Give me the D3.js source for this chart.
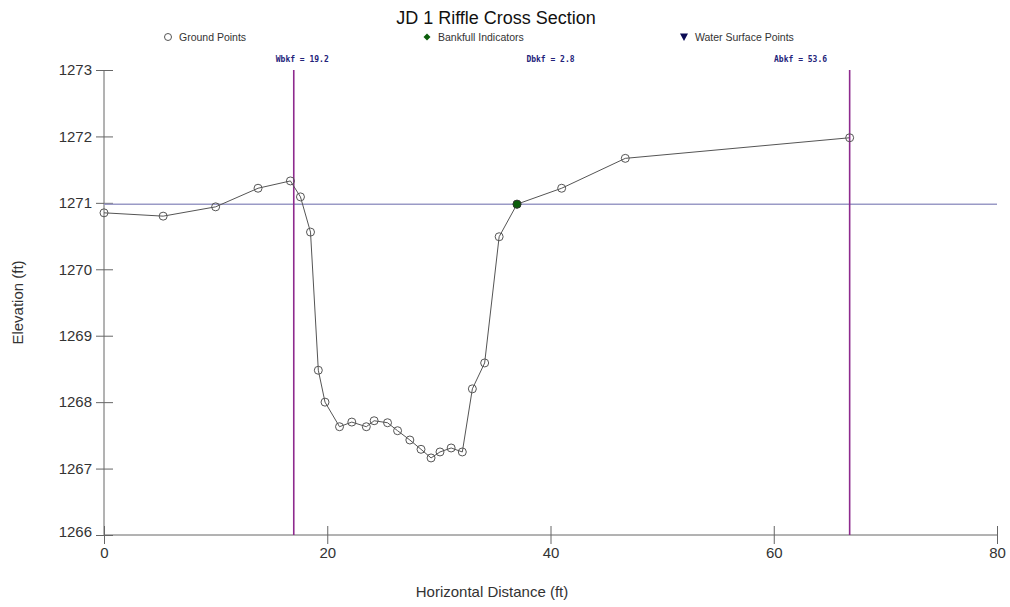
<!DOCTYPE html>
<html>
<head>
<meta charset="utf-8">
<script src="https://cdn.jsdelivr.net/npm/d3@7"></script>
<style>
  body { margin: 0; background: #fff; }
  svg { font-family: "Liberation Sans", Arial, sans-serif; }
</style>
</head>
<body>
<svg id="chart" width="1010" height="607"></svg>
<script>
// Ground survey points
const stations = [0, 5.3, 10.0, 13.8, 16.7, 17.6, 18.5, 19.2, 19.8, 21.1, 22.2, 23.5, 24.2, 25.4, 26.3, 27.4,
  28.4, 29.3, 30.1, 31.1, 32.1, 33.0, 34.1, 35.4, 37.0, 41.0, 46.7, 66.8];
const elevations = [1270.85, 1270.80, 1270.94, 1271.22, 1271.33, 1271.09, 1270.56, 1268.48, 1268.0, 1267.63,
  1267.70, 1267.63, 1267.72, 1267.69, 1267.57, 1267.43, 1267.29, 1267.16, 1267.25, 1267.31, 1267.25,
  1268.20, 1268.59, 1270.49, 1270.98, 1271.22, 1271.67, 1271.98];

// Bankfull indicator and stage
const bankfullX = [37.0];
const bankfullY = [1270.98];
const bankfullStage = 1270.98;
// Bankfull width limits
const widthLimits = [17.0, 66.8];

const xTicks = [0, 20, 40, 60, 80];
const yTicks = [1266, 1267, 1268, 1269, 1270, 1271, 1272, 1273];

const legendItems = ['Ground Points', 'Bankfull Indicators', 'Water Surface Points'];
const annotations = ['Wbkf = 19.2', 'Dbkf = 2.8', 'Abkf = 53.6'];

const svg = d3.select('#chart');
const margin = { left: 104, right: 13, top: 70, bottom: 72 };
const W = 1010, H = 607;

const x = d3.scaleLinear().domain([0, 80]).range([margin.left, W - margin.right]);
const y = d3.scaleLinear().domain([1266, 1273]).range([H - margin.bottom, margin.top]);

// Title
svg.append('text')
  .attr('x', 496).attr('y', 24)
  .attr('text-anchor', 'middle')
  .style('font-size', '18px')
  .style('fill', '#111')
  .text('JD 1 Riffle Cross Section');

// Legend
const legendX = [168, 427, 684];
const lg = svg.append('g').attr('transform', 'translate(0,37)');
lg.append('circle').attr('cx', legendX[0]).attr('cy', 0).attr('r', 3.5)
  .style('fill', 'none').style('stroke', '#555').style('stroke-width', 1);
lg.append('path').attr('d', 'M0,-3.5 L3.5,0 L0,3.5 L-3.5,0 Z')
  .attr('transform', `translate(${legendX[1]},0)`).style('fill', '#0b5e0b');
lg.append('path').attr('d', 'M-4,-3.5 L4,-3.5 L0,4 Z')
  .attr('transform', `translate(${legendX[2]},0)`).style('fill', '#0c0c55');
legendItems.forEach((t, i) => {
  lg.append('text')
    .attr('x', legendX[i] + 11).attr('y', 4)
    .style('font-size', '10.5px')
    .style('fill', '#333')
    .text(t);
});

// Annotations
const annX = [0.222, 0.5, 0.78];
annotations.forEach((t, i) => {
  svg.append('text')
    .attr('x', margin.left + annX[i] * (W - margin.left - margin.right))
    .attr('y', 62)
    .attr('text-anchor', 'middle')
    .style('font-family', '"DejaVu Sans Mono", monospace')
    .style('font-weight', 'bold')
    .style('font-size', '8px')
    .style('fill', '#23237a')
    .text(t);
});

// Axes
const axisColor = '#666';
const xAxis = svg.append('g')
  .attr('transform', `translate(0,${y(1266)})`)
  .call(d3.axisBottom(x).tickValues(xTicks).tickSize(0).tickPadding(12));
xAxis.select('.domain').remove();
xAxis.append('line').attr('x1', x(0)).attr('x2', x(80)).style('stroke', axisColor);
xAxis.selectAll('.tick').append('line')
  .attr('y1', -9).attr('y2', 9).style('stroke', axisColor);
xAxis.selectAll('.tick text').style('font-size', '15px').style('fill', '#333')
  .style('font-family', '"Liberation Sans", Arial, sans-serif');

const yAxis = svg.append('g')
  .attr('transform', `translate(${x(0)},0)`)
  .call(d3.axisLeft(y).tickValues(yTicks).tickFormat(d3.format('d')).tickSize(0).tickPadding(12));
yAxis.select('.domain').remove();
yAxis.append('line').attr('y1', y(1266)).attr('y2', y(1273)).style('stroke', axisColor);
yAxis.selectAll('.tick').append('line')
  .attr('x1', -8).attr('x2', 9).style('stroke', axisColor);
yAxis.selectAll('.tick text').style('font-size', '15px').style('fill', '#333')
  .style('font-family', '"Liberation Sans", Arial, sans-serif');
// the bottom-most label sits a bit lower
yAxis.selectAll('.tick').filter(d => d === 1266).select('text').attr('dy', '0.1em');

// Axis titles
svg.append('text')
  .attr('transform', `translate(23,${(y(1266) + y(1273)) / 2}) rotate(-90)`)
  .attr('text-anchor', 'middle')
  .style('font-size', '15px').style('fill', '#333')
  .text('Elevation (ft)');
svg.append('text')
  .attr('x', 492).attr('y', 597)
  .attr('text-anchor', 'middle')
  .style('font-size', '15px').style('fill', '#333')
  .text('Horizontal Distance (ft)');

// Bankfull stage line
svg.append('line')
  .attr('x1', x(0)).attr('x2', x(80))
  .attr('y1', y(bankfullStage)).attr('y2', y(bankfullStage))
  .style('stroke', '#9a9ac6').style('stroke-width', 1.5);

// Width limit lines
svg.selectAll('line.limit')
  .data(widthLimits)
  .join('line')
  .attr('class', 'limit')
  .attr('x1', d => x(d)).attr('x2', d => x(d))
  .attr('y1', y(1273)).attr('y2', y(1266))
  .style('stroke', '#8e2a8e').style('stroke-width', 1.6);

// Ground profile
const pts = stations.map((s, i) => [s, elevations[i]]);
svg.append('path')
  .datum(pts)
  .attr('d', d3.line().x(d => x(d[0])).y(d => y(d[1])))
  .style('fill', 'none').style('stroke', '#555').style('stroke-width', 1);

svg.selectAll('circle.gp')
  .data(pts)
  .join('circle')
  .attr('class', 'gp')
  .attr('cx', d => x(d[0])).attr('cy', d => y(d[1]))
  .attr('r', 4)
  .style('fill', 'none').style('stroke', '#555').style('stroke-width', 1);

// Bankfull indicators
svg.selectAll('circle.bf')
  .data(bankfullX.map((v, i) => [v, bankfullY[i]]))
  .join('circle')
  .attr('class', 'bf')
  .attr('cx', d => x(d[0])).attr('cy', d => y(d[1]))
  .attr('r', 4)
  .style('fill', '#0b5e0b').style('stroke', '#333').style('stroke-width', 0.8);
</script>
</body>
</html>
